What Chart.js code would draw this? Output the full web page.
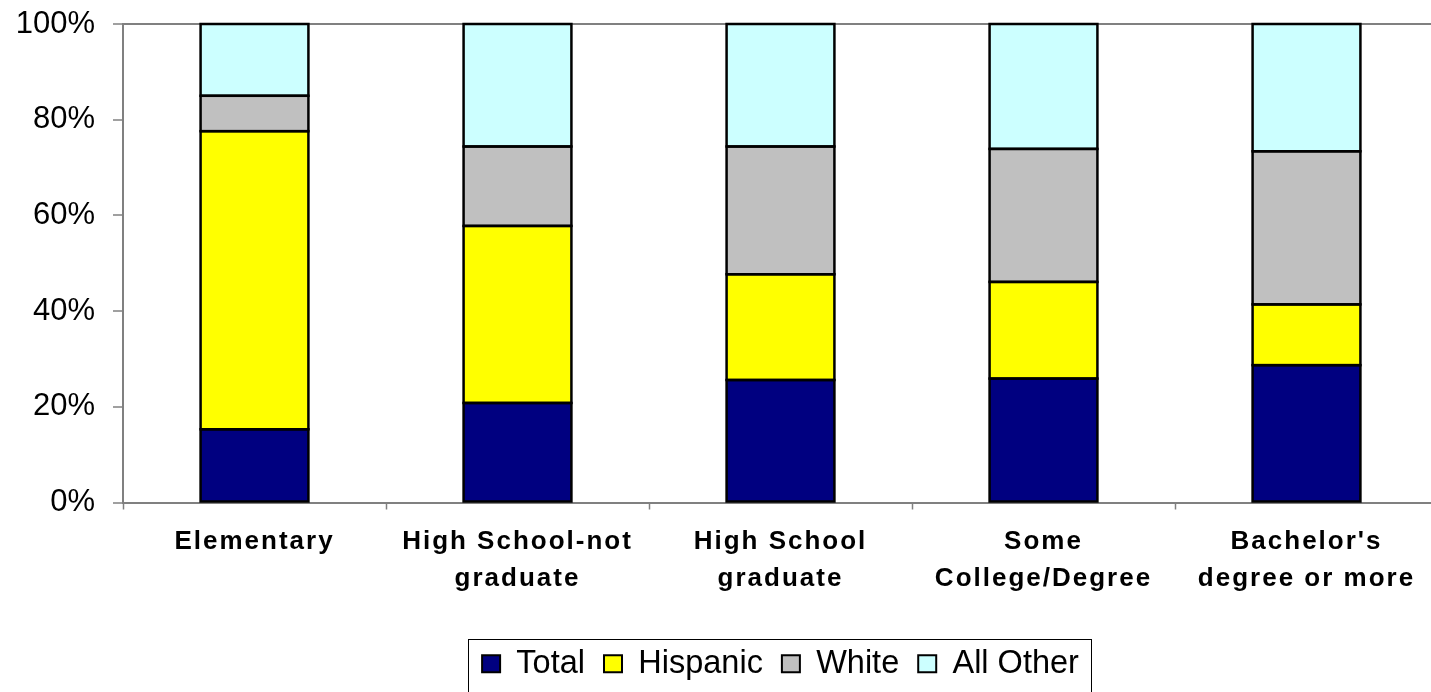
<!DOCTYPE html>
<html>
<head>
<meta charset="utf-8">
<script src="https://cdn.jsdelivr.net/npm/chart.js@4/dist/chart.umd.min.js"></script>
<style>
html, body { margin: 0; padding: 0; overflow: hidden; background: #fff; width: 1431px; height: 692px; }
#wrap { width: 1440px; height: 692px; }
</style>
</head>
<body>
<div id="wrap"><canvas id="c" width="1440" height="692"></canvas></div>
<script>
const categories = [["Elementary"], ["High School-not", "graduate"], ["High School", "graduate"], ["Some", "College/Degree"], ["Bachelor's", "degree or more"]];
const seriesNames = ["Total", "Hispanic", "White", "All Other"];
const totalValues = [15.3, 20.8, 25.6, 25.9, 28.7];
const hispanicValues = [62.3, 37.0, 22.1, 20.2, 12.7];
const whiteValues = [7.4, 16.6, 26.7, 27.8, 32.0];
const allOtherValues = [15.0, 25.6, 25.6, 26.1, 26.6];
const yTickValues = [0, 20, 40, 60, 80, 100];

const colors = ["#000080", "#FFFF00", "#C0C0C0", "#CCFFFF"];
const FONT = "'Liberation Sans', Arial, sans-serif";

const xLetterSpacing = {
  id: 'xLetterSpacing',
  beforeDraw(chart) {
    const xs = chart.scales.x;
    if (xs && !xs._patched) {
      const orig = xs.drawLabels.bind(xs);
      xs.drawLabels = function (area) {
        const c = this.ctx;
        c.save();
        c.letterSpacing = '2px';
        orig(area);
        c.restore();
        c.letterSpacing = '0px';
      };
      xs._patched = true;
    }
  }
};

// outline every bar segment using the geometry computed by Chart.js
const barOutline = {
  id: 'barOutline',
  afterDatasetsDraw(chart) {
    const c = chart.ctx;
    c.save();
    c.strokeStyle = '#000';
    c.lineWidth = 2.5;
    chart.data.datasets.forEach((ds, di) => {
      const meta = chart.getDatasetMeta(di);
      meta.data.forEach(el => {
        const p = el.getProps(['x', 'y', 'base', 'width'], true);
        const top = Math.min(p.y, p.base);
        const h = Math.abs(p.base - p.y);
        c.strokeRect(p.x - p.width / 2, top, p.width, h);
      });
    });
    c.restore();
  }
};

const legendBorder = {
  id: 'legendBorder',
  afterDraw(chart) {
    const lg = chart.legend;
    const hb = lg.legendHitBoxes;
    if (!hb || !hb.length) return;
    const first = hb[0], last = hb[hb.length - 1];
    const left = first.left - 14;
    const right = last.left + last.width + 12;
    const cy = first.top + first.height / 2;
    const c = chart.ctx;
    c.save();
    c.strokeStyle = '#000';
    c.lineWidth = 1;
    c.strokeRect(Math.round(left) + 0.5, Math.round(cy - 25) + 0.5, Math.round(right - left), 120);
    c.restore();
  }
};

const data = {
  labels: categories,
  datasets: [totalValues, hispanicValues, whiteValues, allOtherValues].map((vals, i) => ({
    label: seriesNames[i],
    data: vals,
    backgroundColor: colors[i],
    borderColor: '#000',
    borderWidth: 0,
    inflateAmount: 0,
    barPercentage: 0.41,
    categoryPercentage: 1.0
  }))
};

new Chart(document.getElementById('c'), {
  type: 'bar',
  data: data,
  plugins: [xLetterSpacing, barOutline, legendBorder],
  options: {
    responsive: false,
    animation: false,
    devicePixelRatio: 1,
    layout: { padding: { top: 24, left: 0, right: 2, bottom: 2 } },
    plugins: {
      tooltip: { enabled: false },
      legend: {
        position: 'bottom',
        fullSize: false,
        labels: {
          font: { family: FONT, size: 32.5 },
          color: '#000',
          boxWidth: 18,
          boxHeight: 17,
          padding: 19,
          generateLabels(chart) {
            return Chart.defaults.plugins.legend.labels.generateLabels(chart).map(it => {
              it.strokeStyle = '#000';
              it.lineWidth = 2;
              return it;
            });
          }
        }
      }
    },
    scales: {
      x: {
        stacked: true,
        grid: { offset: true, drawOnChartArea: false, tickLength: 7, tickColor: '#808080', tickWidth: 1.5 },
        border: { display: true, color: '#808080', width: 2 },
        ticks: {
          font: { family: FONT, size: 26, weight: 'bold', lineHeight: 1.42 },
          color: '#000',
          padding: 14,
          maxRotation: 0,
          autoSkip: false
        },
        afterFit(s) { s.height = 126; s.paddingLeft = 0; s.paddingRight = 0; }
      },
      y: {
        stacked: true,
        min: 0,
        max: 100,
        afterBuildTicks(s) { s.ticks = yTickValues.map(v => ({ value: v })); },
        grid: {
          drawOnChartArea: true,
          color: ctx => (ctx.tick && ctx.tick.value === 100 ? '#808080' : 'rgba(0,0,0,0)'),
          lineWidth: 2,
          tickColor: '#808080',
          tickWidth: 1.5,
          tickLength: 10
        },
        border: { display: true, color: '#808080', width: 2 },
        ticks: {
          font: { family: FONT, size: 31 },
          color: '#000',
          padding: 18,
          callback: v => v + '%'
        },
        afterFit(s) { s.width = 123; s.paddingTop = 0; s.paddingBottom = 0; }
      }
    }
  }
});
</script>
</body>
</html>
